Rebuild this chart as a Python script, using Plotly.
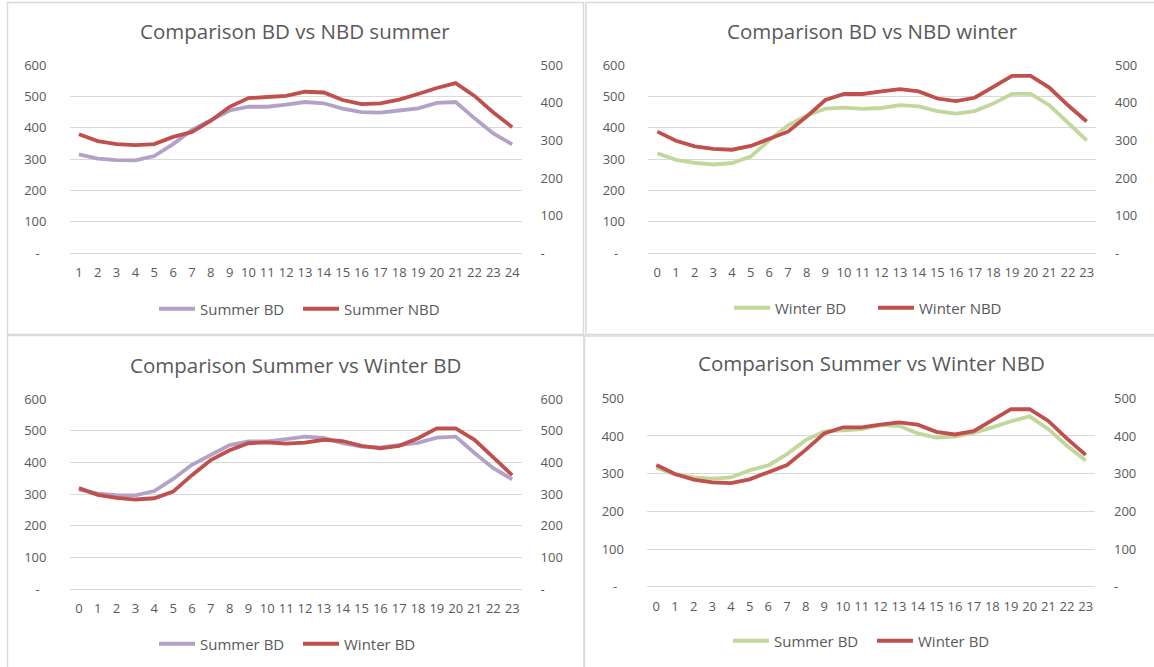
import plotly.graph_objects as go

W, H = 1154, 667

# Hour labels on the category axes
hours_from_one = [str(h) for h in range(1, 25)]
hours_from_zero = [str(h) for h in range(0, 24)]

# Hourly profiles
summer_bd = [315, 302, 297, 296, 310, 348, 393, 425, 455, 467, 467, 474,
             482, 478, 461, 450, 448, 455, 462, 479, 482, 430, 382, 347]
summer_nbd = [316, 298, 290, 287, 290, 309, 322, 352, 389, 412, 415, 418,
              429, 427, 407, 396, 398, 408, 423, 439, 452, 418, 374, 335]
winter_bd = [319, 298, 288, 283, 287, 308, 360, 408, 439, 461, 464, 460,
             463, 472, 468, 453, 445, 453, 477, 508, 508, 472, 416, 360]
winter_nbd = [323, 299, 284, 277, 275, 285, 304, 323, 363, 407, 423, 423,
              430, 436, 430, 411, 404, 413, 442, 471, 471, 440, 393, 350]

# Axis tick values
ticks_600 = [0, 100, 200, 300, 400, 500, 600]
ticks_500 = [0, 100, 200, 300, 400, 500]

PURPLE = "#B3A2C7"
RED = "#C0504D"
GREEN = "#C3D69B"
GRID = "#D9D9D9"
TEXT = "#595959"
FONT = "Open Sans"


def fx(px):
    return px / W


def fy(py):
    return 1 - py / H


def tick_text(vals):
    return ["-\u00a0\u00a0" if v == 0 else str(v) for v in vals]


panels = [
    dict(title="Comparison BD vs NBD summer", title_xy=(295, 31),
         x_px=(69.5, 521.6), y_px=(65, 253.3), cats=hours_from_one,
         left_ticks=ticks_600, right_ticks=ticks_500,
         legend_xy=(298, 309),
         series=[("Summer BD", summer_bd, PURPLE, "left"),
                 ("Summer NBD", summer_nbd, RED, "right")]),
    dict(title="Comparison BD vs NBD winter", title_xy=(872, 31),
         x_px=(648, 1096), y_px=(65, 253.3), cats=hours_from_zero,
         left_ticks=ticks_600, right_ticks=ticks_500,
         legend_xy=(873, 308),
         series=[("Winter BD", winter_bd, GREEN, "left"),
                 ("Winter NBD", winter_nbd, RED, "right")]),
    dict(title="Comparison Summer vs Winter BD", title_xy=(295, 365),
         x_px=(69.5, 521.6), y_px=(399.3, 589), cats=hours_from_zero,
         left_ticks=ticks_600, right_ticks=ticks_600,
         legend_xy=(298, 644),
         series=[("Summer BD", summer_bd, PURPLE, "left"),
                 ("Winter BD", winter_bd, RED, "right")]),
    dict(title="Comparison Summer vs Winter NBD", title_xy=(871, 363),
         x_px=(647, 1095), y_px=(398.3, 586.7), cats=hours_from_zero,
         left_ticks=ticks_500, right_ticks=ticks_500,
         legend_xy=(872, 641),
         series=[("Summer BD", summer_nbd, GREEN, "left"),
                 ("Winter BD", winter_nbd, RED, "right")]),
]

fig = go.Figure()
layout = dict(
    template="none",
    width=W, height=H, autosize=False,
    margin=dict(l=0, r=0, t=0, b=0, pad=0, autoexpand=False),
    paper_bgcolor="white", plot_bgcolor="rgba(0,0,0,0)",
    font=dict(family=FONT, size=13, color=TEXT),
    shapes=[], annotations=[],
)

tick_font = dict(family=FONT, size=13, color=TEXT)

for k, p in enumerate(panels, start=1):
    xname = "x" if k == 1 else f"x{k}"
    yl_idx, yr_idx = 2 * k - 1, 2 * k
    yl = "y" if yl_idx == 1 else f"y{yl_idx}"
    yr = f"y{yr_idx}"
    legend_id = "legend" if k == 1 else f"legend{k}"

    x0, x1 = p["x_px"]
    ytop, ybot = p["y_px"]

    layout["xaxis" if k == 1 else f"xaxis{k}"] = dict(
        domain=[fx(x0), fx(x1)], anchor=yl, type="category",
        range=[-0.5, 23.5], showgrid=False, zeroline=False, showline=False,
        ticks="", tickfont=tick_font, ticklabelstandoff=10, fixedrange=True,
        automargin=False,
    )
    lt = p["left_ticks"]
    layout["yaxis" if yl_idx == 1 else f"yaxis{yl_idx}"] = dict(
        domain=[fy(ybot), fy(ytop)], anchor=xname, side="left",
        range=[0, lt[-1]], tickvals=lt, ticktext=tick_text(lt),
        showgrid=True, gridcolor=GRID, gridwidth=1,
        zeroline=True, zerolinecolor=GRID, zerolinewidth=1,
        showline=False, ticks="", tickfont=tick_font,
        ticklabelstandoff=22, fixedrange=True, automargin=False,
    )
    rt = p["right_ticks"]
    layout[f"yaxis{yr_idx}"] = dict(
        overlaying=yl, anchor=xname, side="right",
        range=[0, rt[-1]], tickvals=rt,
        ticktext=["-" if v == 0 else str(v) for v in rt],
        showgrid=False, zeroline=False, showline=False, ticks="",
        tickfont=tick_font, ticklabelstandoff=18, fixedrange=True,
        automargin=False,
    )

    for name, vals, color, side in p["series"]:
        fig.add_trace(go.Scatter(
            x=p["cats"], y=vals, name=name, mode="lines",
            line=dict(color=color, width=3.8),
            xaxis=xname, yaxis=yl if side == "left" else yr,
            legend=legend_id, hoverinfo="skip",
        ))

    lx, ly = p["legend_xy"]
    layout[legend_id] = dict(
        orientation="h", x=fx(lx), y=fy(ly), xanchor="center",
        yanchor="middle", xref="paper", yref="paper",
        bgcolor="rgba(0,0,0,0)", font=dict(family=FONT, size=15, color=TEXT),
        itemwidth=36, entrywidth=93, traceorder="normal",
    )

    tx, ty = p["title_xy"]
    layout["annotations"].append(dict(
        text=p["title"], x=fx(tx), y=fy(ty), xref="paper", yref="paper",
        xanchor="center", yanchor="middle", showarrow=False,
        font=dict(family=FONT, size=20.5, color=TEXT),
    ))

# Chart frames
frames = [(7.5, 2.5, 583.5, 334.5), (586, 2.5, 1160, 334.5),
          (7.5, 335.5, 584, 670), (584.5, 336, 1160, 670)]
for x0, y0, x1, y1 in frames:
    layout["shapes"].append(dict(
        type="rect", xref="paper", yref="paper",
        x0=fx(x0), x1=fx(x1), y0=fy(y1), y1=fy(y0),
        line=dict(color=GRID, width=1.5), fillcolor="rgba(0,0,0,0)",
        layer="below",
    ))

fig.update_layout(**layout)
fig.write_html("out.html", config=dict(displayModeBar=False))
